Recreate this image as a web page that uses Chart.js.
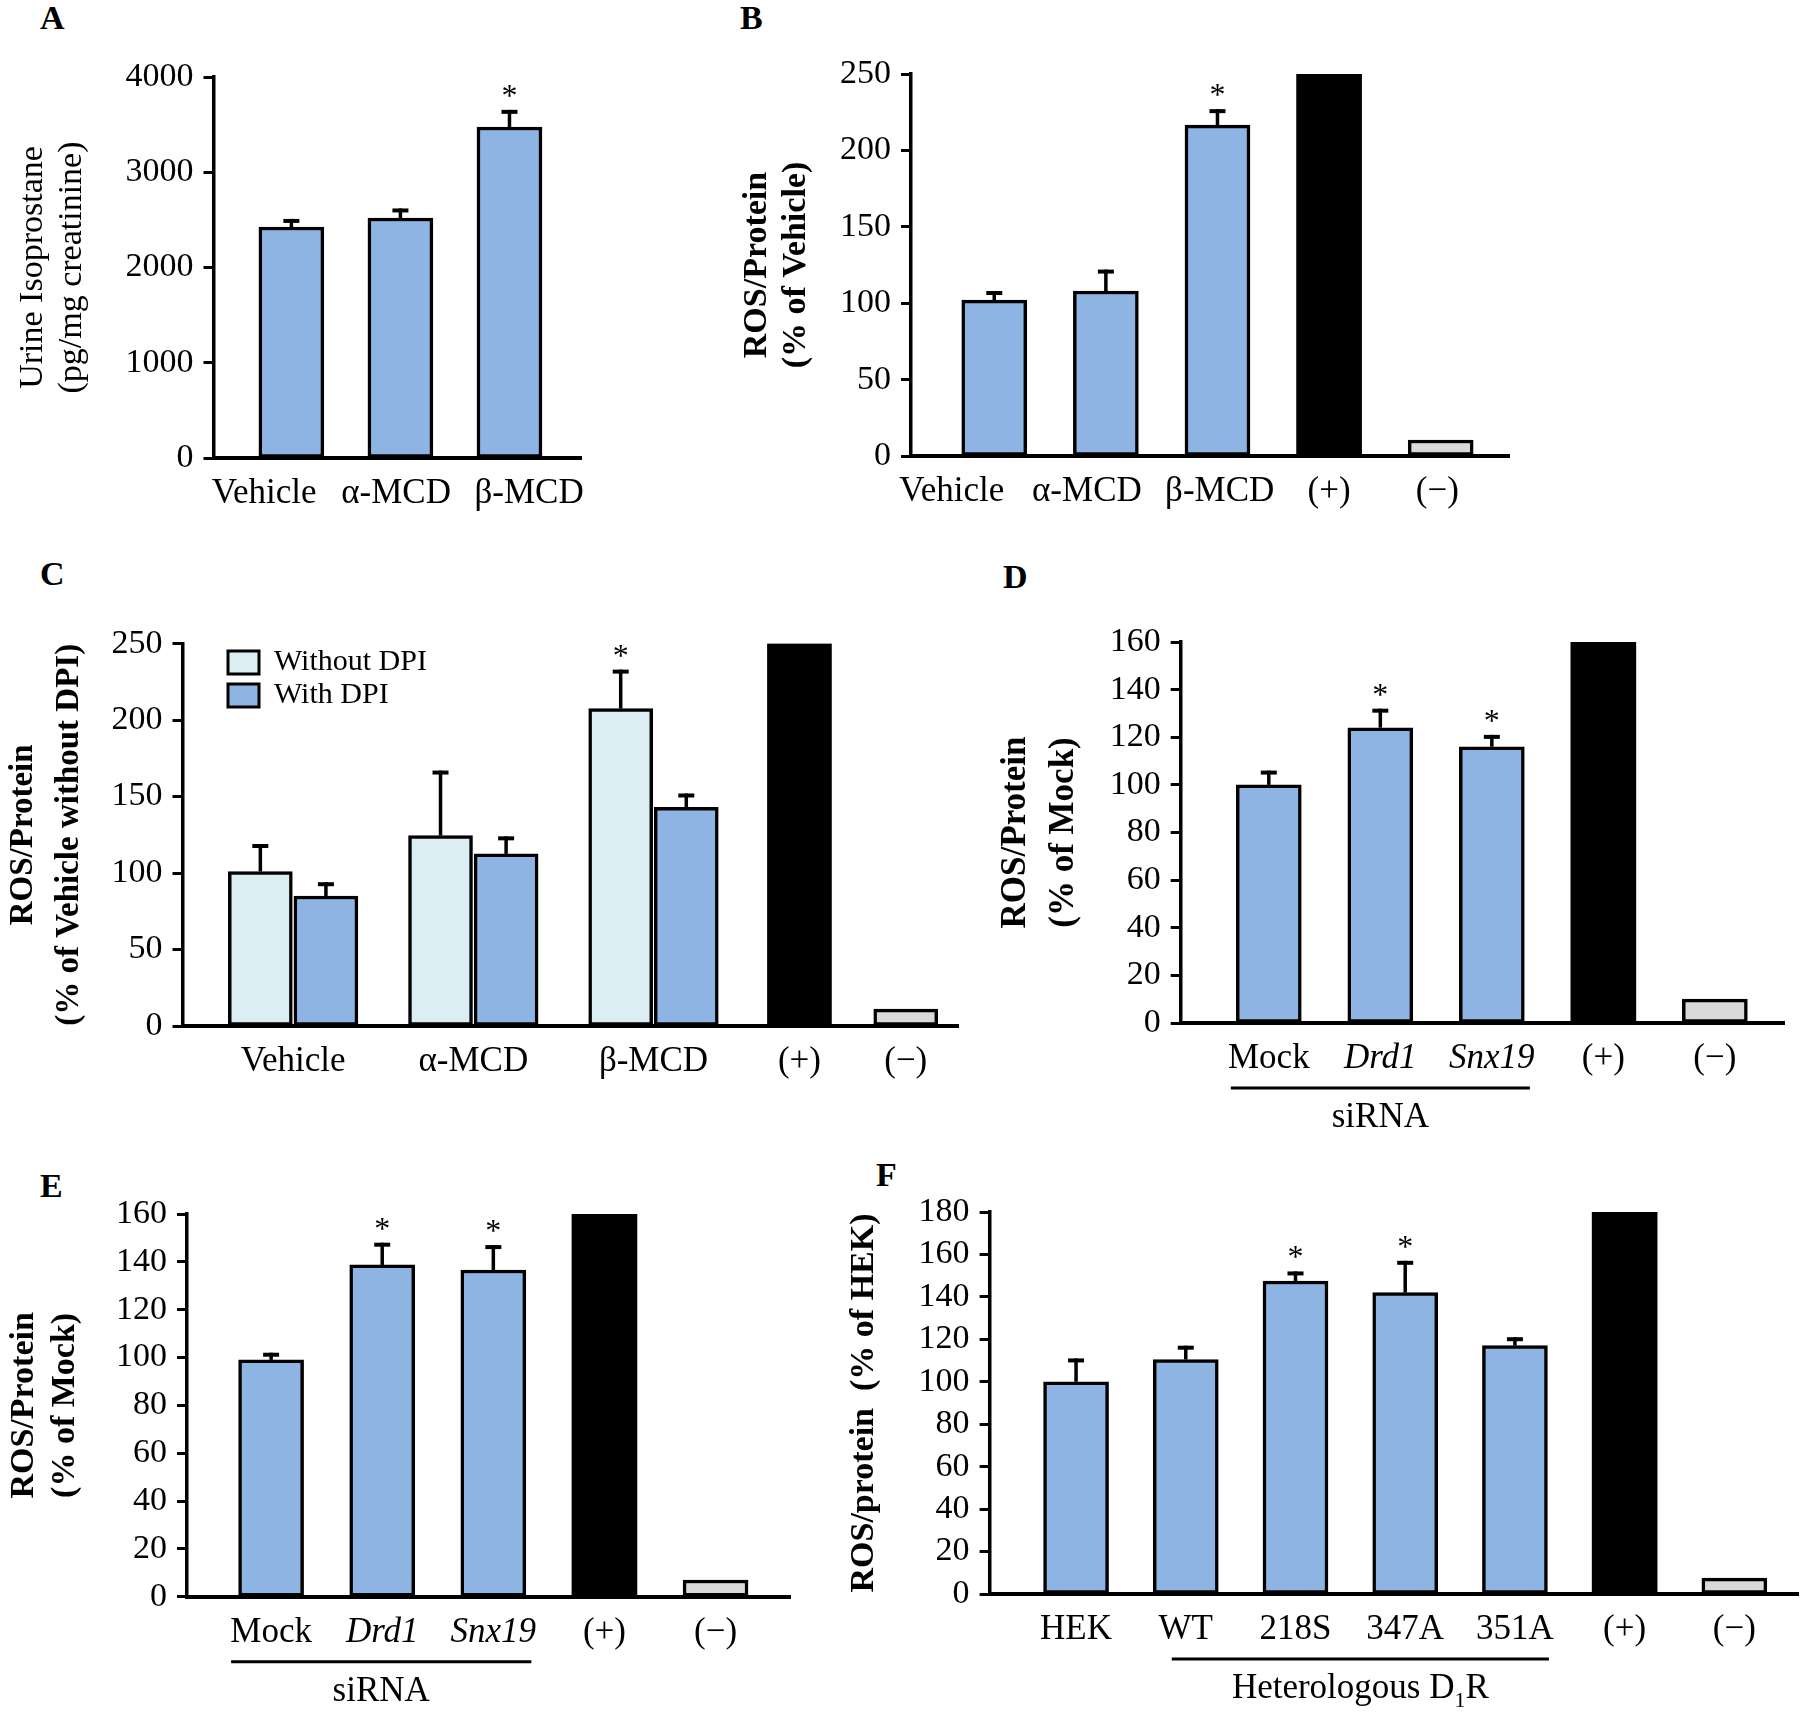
<!DOCTYPE html>
<html lang="en">
<head>
<meta charset="UTF-8">
<title>ROS / Isoprostane</title>
<script src="https://cdn.jsdelivr.net/npm/chart.js"></script>
<style>
  body { margin: 0; background: #fff; }
  #figura { position: relative; width: 1800px; height: 1713px; overflow: hidden; background: #fff; }
  #figura canvas { position: absolute; }
  .letra { position: absolute; font: bold 34px "Liberation Serif", serif; line-height: 1; color: #000; }
</style>
</head>
<body>
<div id="figura">
  <div class="letra" style="left:40px;top:1px">A</div>
  <div class="letra" style="left:740px;top:1px">B</div>
  <div class="letra" style="left:40px;top:557px">C</div>
  <div class="letra" style="left:1003px;top:560px">D</div>
  <div class="letra" style="left:40px;top:1169px">E</div>
  <div class="letra" style="left:876px;top:1158px">F</div>
  <canvas id="painelA"></canvas>
  <canvas id="painelB"></canvas>
  <canvas id="painelC"></canvas>
  <canvas id="painelD"></canvas>
  <canvas id="painelE"></canvas>
  <canvas id="painelF"></canvas>
</div>

<script>
    // ---- dados ----

    // A - isoprostano urinario
    const catsA = ['Vehicle', 'α-MCD', 'β-MCD'];
    const valsA = [2425, 2520, 3475];
    const errsA = [85, 100, 180];
    const starsA = [false, false, true];
    const yTicksA = [0, 1000, 2000, 3000, 4000];

    // B - ROS / proteina
    const catsB = ['Vehicle', 'α-MCD', 'β-MCD', '(+)', '(−)'];
    const valsB = [102, 108, 216.5, 250, 10.5];
    const errsB = [6, 14, 10.5, 0, 0];
    const starsB = [false, false, true, false, false];
    const yTicksB = [0, 50, 100, 150, 200, 250];

    // C - com e sem DPI
    const catsC = ['Vehicle', 'α-MCD', 'β-MCD', '(+)', '(−)'];
    const semDpiC = [101, 124.5, 207.5];
    const semDpiErrC = [18, 42.5, 25.5];
    const semDpiStarsC = [false, false, true];
    const comDpiC = [85, 112.5, 143];
    const comDpiErrC = [9, 11.5, 9];
    const controlesC = [250, 11];
    const yTicksC = [0, 50, 100, 150, 200, 250];

    // D - siRNA
    const catsD = ['Mock', 'Drd1', 'Snx19', '(+)', '(−)'];
    const valsD = [100, 124, 116, 160, 10];
    const errsD = [6, 8, 5, 0, 0];
    const starsD = [false, true, true, false, false];
    const yTicksD = [0, 20, 40, 60, 80, 100, 120, 140, 160];

    // E - siRNA
    const catsE = ['Mock', 'Drd1', 'Snx19', '(+)', '(−)'];
    const valsE = [99, 138.7, 136.6, 160, 7];
    const errsE = [3, 9.3, 10.4, 0, 0];
    const starsE = [false, true, true, false, false];
    const yTicksE = [0, 20, 40, 60, 80, 100, 120, 140, 160];

    // F - D1R heterologo
    const catsF = ['HEK', 'WT', '218S', '347A', '351A', '(+)', '(−)'];
    const valsF = [100, 110.5, 147.5, 142, 117, 180, 7.5];
    const errsF = [11, 6.5, 4.5, 15, 4, 0, 0];
    const starsF = [false, false, true, true, false, false, false];
    const yTicksF = [0, 20, 40, 60, 80, 100, 120, 140, 160, 180];

    // ---- estilo ----
    const AZUL = '#8EB4E3';
    const AZUL_CLARO = '#DAEEF3';
    const CINZA = '#D9D9D9';
    const PRETO = '#000000';
    const SERIF = '"Liberation Serif", "Times New Roman", serif';

    Chart.defaults.color = '#000';
    Chart.defaults.font.family = SERIF;

    // barras de erro (so para cima) e asteriscos
    const barrasErro = {
        id: 'barrasErro',
        afterDatasetsDraw(chart) {
            const ctx = chart.ctx;
            const y = chart.scales.y;
            chart.data.datasets.forEach((ds, i) => {
                if (!ds.erros) return;
                chart.getDatasetMeta(i).data.forEach((barra, j) => {
                    const e = ds.erros[j];
                    const v = ds.data[j].y;
                    const topo = y.getPixelForValue(v + (e || 0));
                    ctx.save();
                    ctx.strokeStyle = '#000';
                    if (e) {
                        ctx.lineWidth = 3.5;
                        ctx.beginPath();
                        ctx.moveTo(barra.x, barra.y);
                        ctx.lineTo(barra.x, topo);
                        ctx.stroke();
                        ctx.lineWidth = 4;
                        ctx.beginPath();
                        ctx.moveTo(barra.x - 8, topo + 2);
                        ctx.lineTo(barra.x + 8, topo + 2);
                        ctx.stroke();
                    }
                    if (ds.estrelas && ds.estrelas[j]) {
                        ctx.fillStyle = '#000';
                        ctx.font = '32px ' + SERIF;
                        ctx.textAlign = 'center';
                        ctx.textBaseline = 'alphabetic';
                        ctx.fillText('*', barra.x, topo - 4);
                    }
                    ctx.restore();
                });
            });
        }
    };

    // linha + texto embaixo de um grupo de categorias (siRNA, Heterologous D1R)
    const grupo = {
        id: 'grupo',
        afterDraw(chart, args, op) {
            if (!op || !op.texto) return;
            const ctx = chart.ctx;
            const x = chart.scales.x;
            const base = chart.scales.y.getPixelForValue(0);
            const x1 = x.getPixelForValue(op.de) - op.esq;
            const x2 = x.getPixelForValue(op.ate) + op.dir;
            ctx.save();
            ctx.strokeStyle = '#000';
            ctx.lineWidth = 3;
            ctx.beginPath();
            ctx.moveTo(x1, base + 65);
            ctx.lineTo(x2, base + 65);
            ctx.stroke();

            ctx.fillStyle = '#000';
            ctx.textBaseline = 'middle';
            ctx.textAlign = 'left';
            const fonte = '35px ' + SERIF;
            const fonteSub = '22px ' + SERIF;
            ctx.font = fonte;
            const w1 = ctx.measureText(op.texto).width;
            let w2 = 0, w3 = 0;
            if (op.sub) {
                ctx.font = fonteSub;
                w2 = ctx.measureText(op.sub).width;
                ctx.font = fonte;
                w3 = ctx.measureText(op.fim).width;
            }
            let cx = (x1 + x2) / 2 - (w1 + w2 + w3) / 2;
            const cy = base + 95;
            ctx.fillText(op.texto, cx, cy);
            if (op.sub) {
                cx += w1;
                ctx.font = fonteSub;
                ctx.fillText(op.sub, cx, cy + 12);
                cx += w2;
                ctx.font = fonte;
                ctx.fillText(op.fim, cx, cy);
            }
            ctx.restore();
        }
    };

    // legenda do painel C
    const legenda = {
        id: 'legenda',
        afterDraw(chart, args, op) {
            if (!op || op.x === undefined) return;
            const ctx = chart.ctx;
            const itens = chart.data.datasets.filter(ds => ds.naLegenda);
            ctx.save();
            itens.forEach((ds, k) => {
                const y = op.y + k * op.passo;
                ctx.fillStyle = ds.backgroundColor;
                ctx.fillRect(op.x, y, op.w, op.h);
                ctx.strokeStyle = '#000';
                ctx.lineWidth = 3;
                ctx.strokeRect(op.x, y, op.w, op.h);
                ctx.fillStyle = '#000';
                ctx.font = op.fonte + 'px ' + SERIF;
                ctx.textAlign = 'left';
                ctx.textBaseline = 'middle';
                ctx.fillText(ds.label, op.textoX, y + op.h / 2);
            });
            ctx.restore();
        }
    };

    function coresComControles(n) {
        // as duas ultimas categorias sao (+) preto e (−) cinza
        return Array.from({ length: n }, (_, i) => i === n - 2 ? PRETO : (i === n - 1 ? CINZA : AZUL));
    }

    function barrasSimples(vals, errs, estrelas, cores) {
        return [{
            data: vals.map((v, i) => ({ x: i, y: v })),
            backgroundColor: cores,
            borderColor: '#000',
            borderWidth: cores.map(c => c === PRETO ? 0 : 3.5),
            borderSkipped: false,
            barThickness: 65,
            erros: errs,
            estrelas: estrelas
        }];
    }

    function montaPainel(id, caixa, datasets, nomes, posRotulos, yTicks, titulo, extra) {
        const canvas = document.getElementById(id);
        canvas.width = caixa.w;
        canvas.height = caixa.h;
        canvas.style.left = caixa.l + 'px';
        canvas.style.top = caixa.t + 'px';
        const italico = extra.italico || [];

        return new Chart(canvas, {
            type: 'bar',
            data: { datasets: datasets },
            plugins: [barrasErro, grupo, legenda],
            options: {
                responsive: false,
                animation: false,
                devicePixelRatio: 1,
                layout: {
                    padding: { top: caixa.topo - caixa.t, right: caixa.l + caixa.w - caixa.fim, left: 0, bottom: 0 }
                },
                plugins: {
                    legend: { display: false },
                    tooltip: { enabled: false },
                    grupo: extra.grupo || {},
                    legenda: extra.legenda || {}
                },
                scales: {
                    x: {
                        type: 'linear',
                        min: caixa.xmin,
                        max: caixa.xmax,
                        offset: false,
                        afterBuildTicks: s => { s.ticks = posRotulos.map(v => ({ value: v })); },
                        afterFit: s => { s.height = caixa.t + caixa.h - caixa.base; },
                        grid: { display: false, drawTicks: false },
                        border: { display: true, color: '#000', width: 4, z: 1 },
                        ticks: {
                            autoSkip: false,
                            maxRotation: 0,
                            padding: 15,
                            color: '#000',
                            font: c => ({ family: SERIF, size: 35, style: italico[c.index] ? 'italic' : 'normal' }),
                            callback: (v, i) => nomes[i]
                        }
                    },
                    y: {
                        min: yTicks[0],
                        max: yTicks[yTicks.length - 1],
                        afterBuildTicks: s => { s.ticks = yTicks.map(v => ({ value: v })); },
                        afterFit: s => { s.width = caixa.eixo - caixa.l; },
                        grid: { drawOnChartArea: false, drawTicks: true, tickLength: 10, tickWidth: 3, tickColor: '#000', color: '#000' },
                        border: { display: true, color: '#000', width: 3.5 },
                        ticks: {
                            autoSkip: false,
                            padding: 10,
                            color: '#000',
                            font: { family: SERIF, size: 34 },
                            callback: v => String(v)
                        },
                        title: {
                            display: true,
                            text: titulo,
                            color: '#000',
                            padding: 0,
                            font: { family: SERIF, size: extra.tituloTam, weight: extra.negrito ? 'bold' : 'normal', lineHeight: extra.entreLinhas + 'px' }
                        }
                    }
                }
            }
        });
    }

    // A
    montaPainel('painelA',
        { l: 14, t: 40, w: 586, h: 480, eixo: 213.5, topo: 77, base: 458, fim: 591, xmin: -0.714, xmax: 2.665 },
        barrasSimples(valsA, errsA, starsA, catsA.map(() => AZUL)),
        catsA, [-0.25, 0.96, 2.18], yTicksA,
        ['Urine Isoprostane', '(pg/mg creatinine)'],
        { tituloTam: 34, negrito: false, entreLinhas: 39 });

    // B
    montaPainel('painelB',
        { l: 738, t: 40, w: 782, h: 480, eixo: 911, topo: 74, base: 456, fim: 1509, xmin: -0.746, xmax: 4.612 },
        barrasSimples(valsB, errsB, starsB, coresComControles(catsB.length)),
        catsB, [-0.38, 0.83, 2.02, 3.0, 3.97], yTicksB,
        ['ROS/Protein', '(% of Vehicle)'],
        { tituloTam: 34, negrito: true, entreLinhas: 39 });

    // C - barras pareadas; posicoes dos grupos no eixo x
    const posGruposC = [0, 1, 2, 2.81, 3.4];
    const meioParC = 0.182;
    const comumC = { borderColor: '#000', borderSkipped: false, grouped: false, barThickness: 64, maxBarThickness: 64 };
    montaPainel('painelC',
        { l: 0, t: 600, w: 970, h: 500, eixo: 182.5, topo: 643.6, base: 1026, fim: 958, xmin: -0.614, xmax: 3.69 },
        [
            Object.assign({
                label: 'Without DPI', naLegenda: true,
                data: semDpiC.map((v, i) => ({ x: posGruposC[i] - meioParC, y: v })),
                backgroundColor: AZUL_CLARO, borderWidth: 3.5,
                erros: semDpiErrC, estrelas: semDpiStarsC
            }, comumC),
            Object.assign({
                label: 'With DPI', naLegenda: true,
                data: comDpiC.map((v, i) => ({ x: posGruposC[i] + meioParC, y: v })),
                backgroundColor: AZUL, borderWidth: 3.5,
                erros: comDpiErrC
            }, comumC),
            Object.assign({
                label: 'Controles',
                data: controlesC.map((v, i) => ({ x: posGruposC[3 + i], y: v })),
                backgroundColor: [PRETO, CINZA], borderWidth: [0, 3.5]
            }, comumC)
        ],
        catsC, posGruposC, yTicksC,
        ['ROS/Protein', '(% of Vehicle without DPI)'],
        {
            tituloTam: 33, negrito: true, entreLinhas: 46,
            legenda: { x: 228, y: 51, passo: 33, w: 31, h: 23, textoX: 274, fonte: 30 }
        });

    // D
    montaPainel('painelD',
        { l: 992, t: 600, w: 808, h: 545, eixo: 1180.7, topo: 642, base: 1023, fim: 1784, xmin: -0.79, xmax: 4.62 },
        barrasSimples(valsD, errsD, starsD, coresComControles(catsD.length)),
        catsD, catsD.map((_, i) => i), yTicksD,
        ['ROS/Protein', '(% of Mock)'],
        {
            tituloTam: 35, negrito: true, entreLinhas: 48,
            italico: [false, true, true, false, false],
            grupo: { de: 0, ate: 2, esq: 38, dir: 38, texto: 'siRNA' }
        });

    // E
    montaPainel('painelE',
        { l: 4, t: 1160, w: 796, h: 553, eixo: 187, topo: 1214, base: 1596.7, fim: 790, xmin: -0.757, xmax: 4.67 },
        barrasSimples(valsE, errsE, starsE, coresComControles(catsE.length)),
        catsE, catsE.map((_, i) => i), yTicksE,
        ['ROS/Protein', '(% of Mock)'],
        {
            tituloTam: 34, negrito: true, entreLinhas: 41,
            italico: [false, true, true, false, false],
            grupo: { de: 0, ate: 2, esq: 40, dir: 38, texto: 'siRNA' }
        });

    // F
    montaPainel('painelF',
        { l: 844, t: 1160, w: 956, h: 553, eixo: 989.6, topo: 1212, base: 1594, fim: 1798, xmin: -0.788, xmax: 6.58 },
        barrasSimples(valsF, errsF, starsF, coresComControles(catsF.length)),
        catsF, catsF.map((_, i) => i), yTicksF,
        'ROS/protein  (% of HEK)',
        {
            tituloTam: 34, negrito: true, entreLinhas: 40,
            grupo: { de: 1, ate: 4, esq: 14, dir: 34, texto: 'Heterologous D', sub: '1', fim: 'R' }
        });
</script>
</body>
</html>
